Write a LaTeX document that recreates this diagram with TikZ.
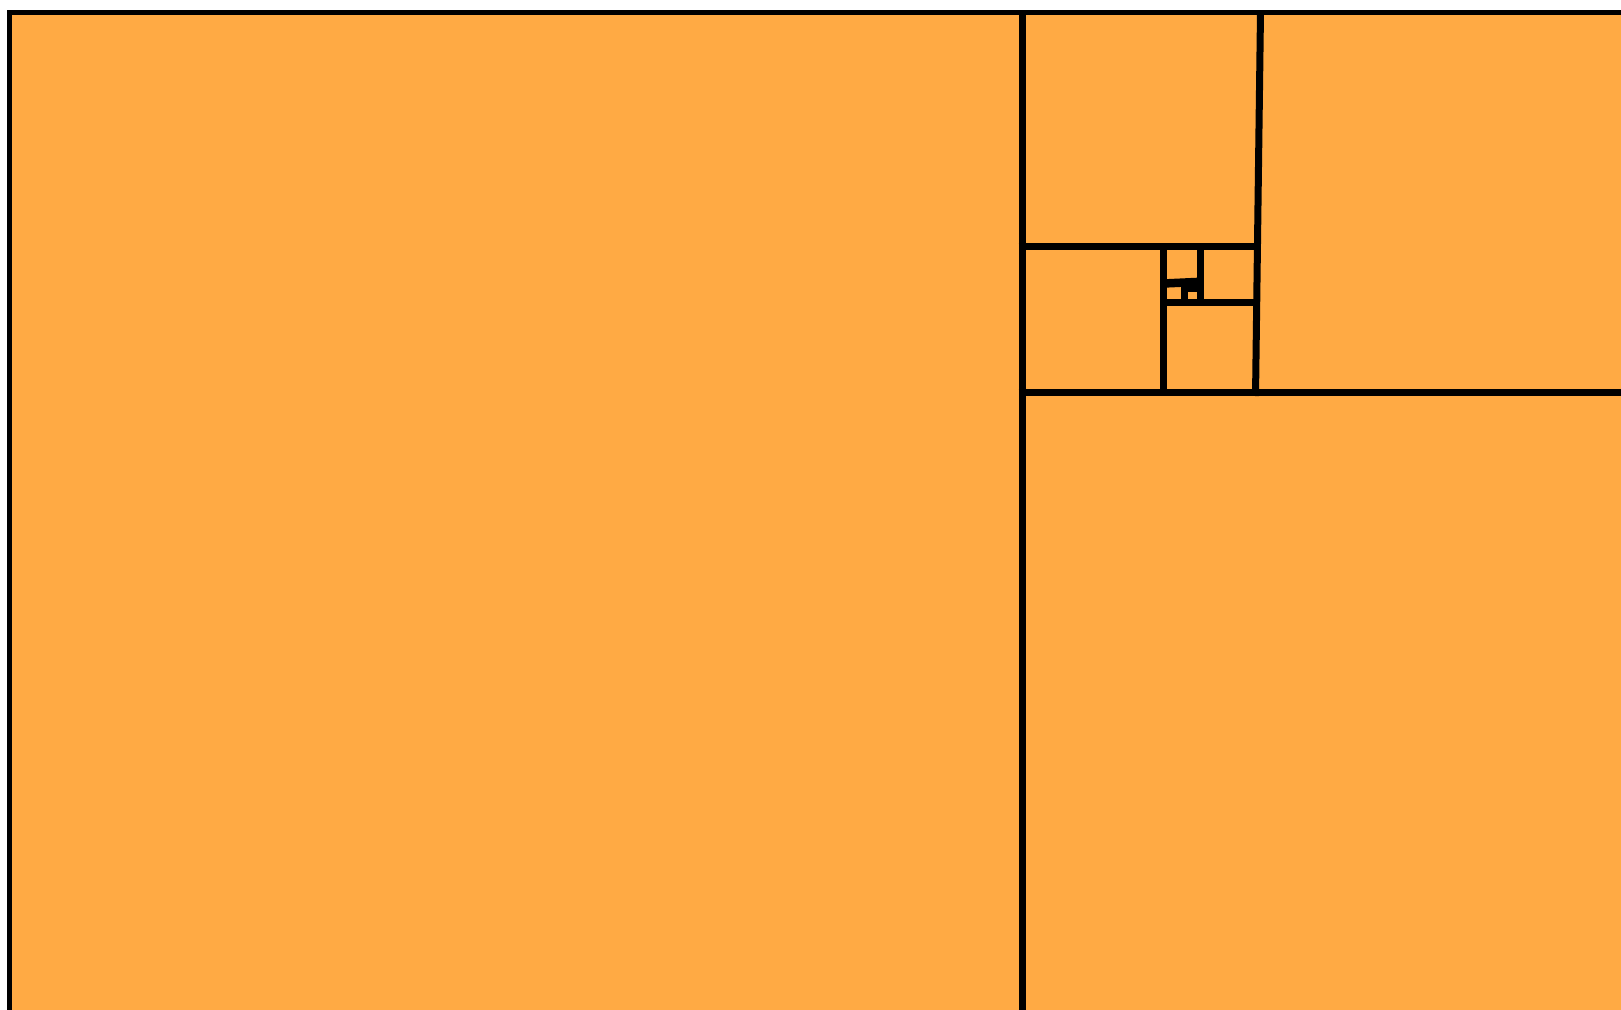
\documentclass[tikz,border=0pt]{standalone}
\definecolor{fibfill}{HTML}{FFAA44}
\tikzset{
  edge/.style={draw=black, line width=7pt, line cap=butt},
  thin edge/.style={draw=black, line width=5pt},
}
\begin{document}
\begin{tikzpicture}[x=1pt,y=-1pt]
\useasboundingbox (0,0) rectangle (1621,1009);
\clip (0,0) rectangle (1621,1009);
% background fill
\fill[fibfill] (7,10) rectangle (1640,1030);
% outer border (top and left visible)
\draw[thin edge] (9.5,1030) -- (9.5,12.5) -- (1640,12.5);
% main divisions
\draw[edge] (1022,12) -- (1022,1030);
\draw[edge] (1260.5,12) -- (1255.5,396);
\draw[edge] (1018.5,392.5) -- (1640,392.5);
\draw[edge] (1018.5,246) -- (1258,246);
\draw[edge] (1163.5,246) -- (1163.5,396);
\draw[edge] (1163.5,302) -- (1257,302);
\draw[edge] (1200.5,246) -- (1200.5,302);
% tiny squares
\draw[black, line width=8.5pt] (1163.5,283.5) -- (1200.5,281.8);
\draw[edge] (1184.5,283) -- (1184.5,302);
\draw[edge] (1184.5,288.8) -- (1200.5,288.8);
\end{tikzpicture}
\end{document}
